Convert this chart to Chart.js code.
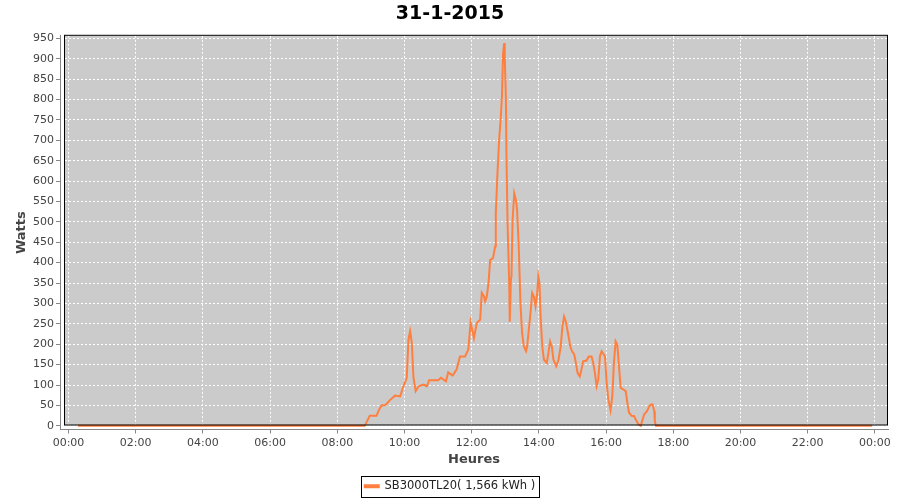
<!DOCTYPE html>
<html>
<head>
<meta charset="utf-8">
<script src="https://cdn.jsdelivr.net/npm/chart.js@4/dist/chart.umd.min.js"></script>
<style>
    html, body { margin: 0; padding: 0; background: #ffffff; }
    #zone { width: 900px; height: 500px; }
</style>
</head>
<body>
<div id="zone"><canvas id="graficoProduccion" width="900" height="500"></canvas></div>
<script>
/*global Chart*/

var heures = [
    "00:17", "08:49", "08:58", "09:10", "09:14", "09:19", "09:26", "09:34", "09:43", "09:52",
    "09:58", "10:04", "10:07", "10:10", "10:13", "10:16", "10:20", "10:25", "10:34", "10:40",
    "10:44", "11:00", "11:05", "11:14", "11:18", "11:26", "11:33", "11:39", "11:48", "11:54",
    "11:58", "12:04", "12:09", "12:15", "12:18", "12:22", "12:24", "12:27", "12:30", "12:33",
    "12:38", "12:42", "12:43", "12:46", "12:49", "12:52", "12:54", "12:55", "12:56", "12:58",
    "12:59", "13:01", "13:02", "13:04", "13:07", "13:08", "13:10", "13:11", "13:13", "13:16",
    "13:19", "13:21", "13:24", "13:27", "13:30", "13:33", "13:37", "13:39", "13:42", "13:45",
    "13:48", "13:51", "13:54", "13:57", "13:59", "14:01", "14:03", "14:06", "14:09", "14:14",
    "14:17", "14:20", "14:23", "14:26", "14:31", "14:35", "14:39", "14:42", "14:45", "14:48",
    "14:53", "14:56", "14:59", "15:03", "15:06", "15:09", "15:13", "15:16", "15:19", "15:25",
    "15:29", "15:34", "15:37", "15:40", "15:43", "15:46", "15:49", "15:52", "15:56", "15:58",
    "16:01", "16:04", "16:08", "16:11", "16:14", "16:17", "16:20", "16:23", "16:26", "16:31",
    "16:35", "16:38", "16:41", "16:46", "16:50", "16:53", "16:58", "17:02", "17:05", "17:08",
    "17:13", "17:17", "17:20", "17:23", "17:26", "17:27", "17:29", "23:55"
];
var watts = [
    0, 0, 25, 25, 38, 50, 51, 63, 74, 72,
    97, 117, 211, 232, 204, 118, 85, 97, 101, 97,
    112, 112, 118, 109, 131, 123, 138, 170, 170, 187,
    254, 215, 252, 260, 326, 317, 305, 317, 350, 407,
    411, 440, 521, 619, 701, 758, 807, 864, 913, 938,
    905, 807, 668, 497, 350, 255, 358, 366, 505, 570,
    554, 530, 440, 301, 228, 195, 183, 195, 236, 277,
    326, 317, 293, 326, 366, 350, 268, 195, 162, 154,
    179, 207, 195, 162, 146, 162, 195, 244, 268, 256,
    219, 195, 183, 175, 154, 130, 121, 138, 158, 160,
    170, 170, 154, 130, 97, 113, 170, 183, 175, 170,
    105, 64, 38, 72, 155, 207, 199, 146, 93, 89,
    85, 56, 32, 24, 24, 15, 3, 0, 15, 28,
    36, 48, 52, 52, 36, 11, 0, 0
];
var ticksHeures = ["00:00", "02:00", "04:00", "06:00", "08:00", "10:00", "12:00",
    "14:00", "16:00", "18:00", "20:00", "22:00", "24:00"];
var ticksWatts = [0, 50, 100, 150, 200, 250, 300, 350, 400, 450, 500, 550, 600,
    650, 700, 750, 800, 850, 900, 950];

var titre = "31-1-2015";
var nomSerie = "SB3000TL20( 1,566 kWh )";

function enMinutes(h) {
    "use strict";
    var p = h.split(":");
    return Number(p[0]) * 60 + Number(p[1]);
}

function enTexte(m) {
    "use strict";
    var h = Math.floor(m / 60) % 24;
    var mn = m % 60;
    return (h < 10 ? "0" : "") + h + ":" + (mn < 10 ? "0" : "") + mn;
}

var points = heures.map(function (h, i) {
    "use strict";
    return {x: enMinutes(h), y: watts[i]};
});

var cadre = {
    id: "cadre",
    afterLayout: function (chart) {
        "use strict";
        // titre et légende centrés sur toute la largeur de l'image
        chart.titleBlock.left += 6;
        chart.titleBlock.right += 6;
        chart.legend.left += 6;
        chart.legend.right += 6;
        chart.legend.top += 2;
        chart.legend.bottom += 2;
    },
    beforeDraw: function (chart) {
        "use strict";
        var ctx = chart.ctx;
        var a = chart.chartArea;
        ctx.save();
        ctx.fillStyle = "#ffffff";
        ctx.fillRect(0, 0, chart.width, chart.height);
        ctx.fillStyle = "#cbcbcb";
        ctx.fillRect(a.left + 4, a.top, a.right - a.left - 4, a.bottom - a.top - 4);
        ctx.restore();
    },
    afterDatasetsDraw: function (chart) {
        "use strict";
        var ctx = chart.ctx;
        var a = chart.chartArea;
        ctx.save();
        ctx.strokeStyle = "#000000";
        ctx.lineWidth = 1;
        ctx.strokeRect(a.left + 4.5, a.top - 0.5, a.right - a.left - 5, a.bottom - a.top - 4);
        ctx.restore();
    },
    afterDraw: function (chart) {
        "use strict";
        var boites = chart.legend.legendHitBoxes;
        var ctx = chart.ctx;
        if (boites && boites.length) {
            var b = boites[0];
            ctx.save();
            ctx.strokeStyle = "#000000";
            ctx.lineWidth = 1;
            ctx.strokeRect(Math.round(b.left) - 3.5, Math.round(b.top) - 4.5,
                Math.round(b.width) + 8, Math.round(b.height) + 9);
            ctx.restore();
        }
    }
};

Chart.defaults.font.family = "'DejaVu Sans', sans-serif";
Chart.defaults.color = "#444444";

new Chart(document.getElementById("graficoProduccion"), {
    type: "line",
    data: {
        datasets: [{
            label: nomSerie,
            data: points,
            borderColor: "#ff7f3f",
            backgroundColor: "#ff7f3f",
            borderWidth: 2,
            pointRadius: 0,
            tension: 0
        }]
    },
    options: {
        responsive: false,
        animation: false,
        devicePixelRatio: 1,
        layout: {
            padding: {left: 0, right: 12, top: 0, bottom: 0}
        },
        plugins: {
            title: {
                display: true,
                text: titre,
                color: "#000000",
                font: {size: 19, weight: "bold"},
                padding: {top: 3, bottom: 10}
            },
            legend: {
                display: true,
                position: "bottom",
                labels: {
                    color: "#222222",
                    font: {size: 11.5},
                    boxWidth: 14,
                    boxHeight: 2,
                    padding: 10
                }
            },
            tooltip: {enabled: false}
        },
        scales: {
            x: {
                type: "linear",
                min: -15.2,
                max: 1463.4,
                afterFit: function (scale) {
                    "use strict";
                    scale.height = 39;
                },
                afterBuildTicks: function (scale) {
                    "use strict";
                    scale.ticks = ticksHeures.map(function (h) {
                        return {value: enMinutes(h)};
                    });
                },
                ticks: {
                    autoSkip: false,
                    maxRotation: 0,
                    padding: 3,
                    font: {size: 11},
                    callback: function (value) {
                        "use strict";
                        return enTexte(value);
                    }
                },
                grid: {
                    color: "#ffffff",
                    lineWidth: 1,
                    tickLength: 4,
                    tickColor: "#888888",
                    tickBorderDash: []
                },
                border: {
                    display: true,
                    color: "#888888",
                    width: 1,
                    dash: [2, 2]
                },
                title: {
                    display: true,
                    text: "Heures",
                    color: "#444444",
                    font: {size: 13, weight: "bold"},
                    padding: {top: 0, bottom: 1}
                }
            },
            y: {
                min: -9,
                max: 956,
                afterFit: function (scale) {
                    "use strict";
                    scale.width = 60;
                },
                afterBuildTicks: function (scale) {
                    "use strict";
                    scale.ticks = ticksWatts.map(function (v) {
                        return {value: v};
                    });
                },
                ticks: {
                    autoSkip: false,
                    padding: 2,
                    font: {size: 11}
                },
                grid: {
                    color: "#ffffff",
                    lineWidth: 1,
                    tickLength: 4,
                    tickColor: "#888888",
                    tickBorderDash: []
                },
                border: {
                    display: true,
                    color: "#888888",
                    width: 1,
                    dash: [2, 2]
                },
                title: {
                    display: true,
                    text: "Watts",
                    color: "#444444",
                    font: {size: 13, weight: "bold"},
                    padding: {top: 14, bottom: 0}
                }
            }
        }
    },
    plugins: [cadre]
});
</script>
</body>
</html>
